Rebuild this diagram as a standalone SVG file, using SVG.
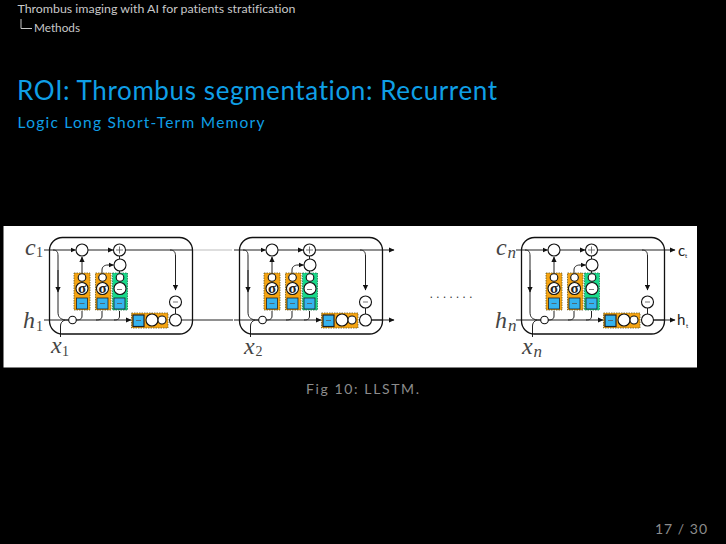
<svg xmlns="http://www.w3.org/2000/svg" xmlns:xlink="http://www.w3.org/1999/xlink" width="726" height="544" viewBox="0 0 726 544">
<style>
text{font-family:"Lato","Liberation Sans",sans-serif;font-variant-ligatures:none}
.head{fill:#c9c9c9;font-size:11px}
.blue{fill:#0f9fe6}
.grey{fill:#8c8c8c;font-size:14px}
.math{font-family:"Liberation Serif",serif;font-style:italic;fill:#444;font-size:24px}
.sub{font-family:"Liberation Serif",serif;fill:#444;font-size:14px}
.subi{font-family:"Liberation Serif",serif;font-style:italic;fill:#444;font-size:17px}
.out{fill:#222}
.sig{font-family:"Liberation Serif",serif;font-size:15px;font-weight:bold;fill:#222;text-anchor:middle}
.shell{fill:none;stroke:#111;stroke-width:1.3}
.wire{fill:none;stroke:#222;stroke-width:1}
.pale{fill:none;stroke:#bdbdbd;stroke-width:1}
.ora{fill:#f5a413;stroke:#6b5a20;stroke-width:.8;stroke-dasharray:1.5 1}
.grn{fill:#17d98a;stroke:#1f7a50;stroke-width:.8;stroke-dasharray:1.5 1}
.sky{fill:#35b3ee;stroke:#222;stroke-width:.8}
.c{fill:#fff;stroke:#111;stroke-width:1.1}
.mark{fill:none;stroke:#555;stroke-width:.8}
</style>
<defs>
<marker id="arrow" markerWidth="6" markerHeight="6" refX="5" refY="3" orient="auto" markerUnits="userSpaceOnUse"><path d="M0 0.4L5.5 3L0 5.6z" fill="#111"/></marker>
<g id="wires">
<path class="wire" marker-end="url(#arrow)" d="M44 250H75.500"/>
<path class="wire" marker-end="url(#arrow)" d="M88 250H113"/>
<path class="wire" d="M125.500 250H192"/>
<path class="wire" d="M53 250C57 250 58 252 58 256V312C58 317 60 319 65 320H69"/>
<path class="wire" marker-end="url(#arrow)" d="M58 270V292"/>
<path class="wire" d="M44 320H69"/>
<path class="wire" marker-end="url(#arrow)" d="M76 320H131"/>
<path class="wire" d="M181 320H192"/>
<path class="wire" d="M60.500 337V326C60.500 323 62 321 65 320"/>
<path class="wire" d="M82 311V316C82 319 80 320 76 320"/>
<path class="wire" d="M102 311V316C102 319 100 320 96 320"/>
<path class="wire" d="M119.500 311V316C119.500 319 118 320 114 320"/>
<path class="wire" marker-end="url(#arrow)" d="M82 273V257"/>
<path class="wire" marker-end="url(#arrow)" d="M102 273V270C102 267 104 265 108 265H113.500"/>
<path class="wire" d="M119.500 271V273"/>
<path class="wire" d="M119.500 256V259"/>
<path class="wire" marker-end="url(#arrow)" d="M170 250C174 250 175.500 252 175.500 256V290"/>
<path class="wire" d="M175.500 308V314"/>
</g>
<g id="cellbody">
<rect class="shell" x="49.500" y="237.500" width="143" height="96.500" rx="13"/>
<rect class="ora" x="74" y="273" width="16" height="37"/>
<rect class="ora" x="95.500" y="273" width="15.500" height="37"/>
<rect class="grn" x="112.500" y="273" width="15" height="37"/>
<rect class="sky" x="76.500" y="298" width="11" height="11"/>
<rect class="sky" x="97" y="298" width="11" height="11"/>
<rect class="sky" x="114" y="298" width="11" height="11"/>
<rect class="ora" x="131.500" y="313" width="36.500" height="15"/>
<rect class="sky" x="133" y="315" width="11" height="11.500" style="stroke-width:1.2"/>
<circle class="c" cx="82" cy="250" r="6"/><circle class="c" cx="119.500" cy="250" r="6"/>
<path class="mark" d="M116 250h7M119.500 246.500v7"/>
<circle class="c" cx="120" cy="265" r="6"/>
<circle class="c" cx="82" cy="277.500" r="3.800"/><circle class="c" cx="82" cy="288.500" r="6"/>
<circle class="c" cx="102.500" cy="277.500" r="3.800"/><circle class="c" cx="102.500" cy="288.500" r="6"/>
<circle class="c" cx="120" cy="277.500" r="3.800"/><circle class="c" cx="120" cy="288.500" r="6"/>
<text class="sig" x="82" y="292.500">σ</text>
<text class="sig" x="102.500" y="292.500">σ</text>
<circle class="c" cx="152" cy="320" r="6"/><circle class="c" cx="162" cy="320" r="4"/>
<circle class="c" cx="175.500" cy="320" r="6"/><circle class="c" cx="175.500" cy="302" r="6"/>
<circle class="c" cx="72.500" cy="320" r="3.800"/>
<path class="mark" d="M173 302h5M117 289.500h5M79.500 303.500h5M100 303.500h5M117 303.500h5M136 320.500h5"/>
</g>
</defs>
<rect width="726" height="544" fill="#000"/>
<g id="header">
<text class="head" x="17.500" y="13" textLength="278" lengthAdjust="spacingAndGlyphs">Thrombus imaging with AI for patients stratification</text>
<path d="M21 19V28.500H32" fill="none" stroke="#c9c9c9" stroke-width="1"/>
<text class="head" x="34" y="32" textLength="46" lengthAdjust="spacingAndGlyphs">Methods</text>
<text class="blue" x="17" y="100" font-size="26" textLength="480" lengthAdjust="spacing">ROI: Thrombus segmentation: Recurrent</text>
<text class="blue" x="17.500" y="128" font-size="15.500" textLength="247" lengthAdjust="spacing">Logic Long Short-Term Memory</text>
</g>
<rect id="panel" x="3.500" y="226" width="693.500" height="141.500" fill="#fff"/>
<g id="connectors">
<use href="#wires"/>
<use href="#wires" transform="translate(190 0)"/>
<use href="#wires" transform="translate(472 0)"/>
<path class="pale" d="M192 250H232"/>
<path class="wire" d="M192 320H233"/>
<path class="wire" marker-end="url(#arrow)" d="M382.500 250H394"/>
<path class="wire" marker-end="url(#arrow)" d="M371 320H394"/>
<path class="wire" marker-end="url(#arrow)" d="M664 250H675"/>
<path class="wire" marker-end="url(#arrow)" d="M653 320H675"/>
</g>
<g id="cell-1"><use href="#cellbody"/></g>
<g id="cell-2"><use href="#cellbody" transform="translate(190 0)"/></g>
<g id="cell-n"><use href="#cellbody" transform="translate(472 0)"/></g>
<g id="labels">
<text class="math" x="25" y="255">c</text><text class="sub" x="36" y="257">1</text>
<text class="math" x="23" y="328">h</text><text class="sub" x="36" y="331">1</text>
<text class="math" x="51" y="353">x</text><text class="sub" x="62" y="356">1</text>
<text class="math" x="244" y="354">x</text><text class="sub" x="255.500" y="356">2</text>
<text class="math" x="496" y="255">c</text><text class="subi" x="507.500" y="258">n</text>
<text class="math" x="495" y="328">h</text><text class="subi" x="508" y="331">n</text>
<text class="math" x="522" y="354">x</text><text class="subi" x="533.500" y="357">n</text>
<text class="out" x="678" y="256" font-size="15">c</text><text class="out" x="685" y="258" font-size="6">t</text>
<text class="out" x="677" y="325" font-size="15">h</text><text class="out" x="686" y="328" font-size="6">t</text>
<text x="430" y="298" font-size="11" fill="#333" textLength="42">.......</text>
</g>
<g id="footer">
<text class="grey" x="306" y="394" textLength="113" lengthAdjust="spacing">Fig 10: LLSTM.</text>
<text class="grey" x="655" y="534" font-size="15" textLength="52" lengthAdjust="spacing">17 / 30</text>
</g>
</svg>
